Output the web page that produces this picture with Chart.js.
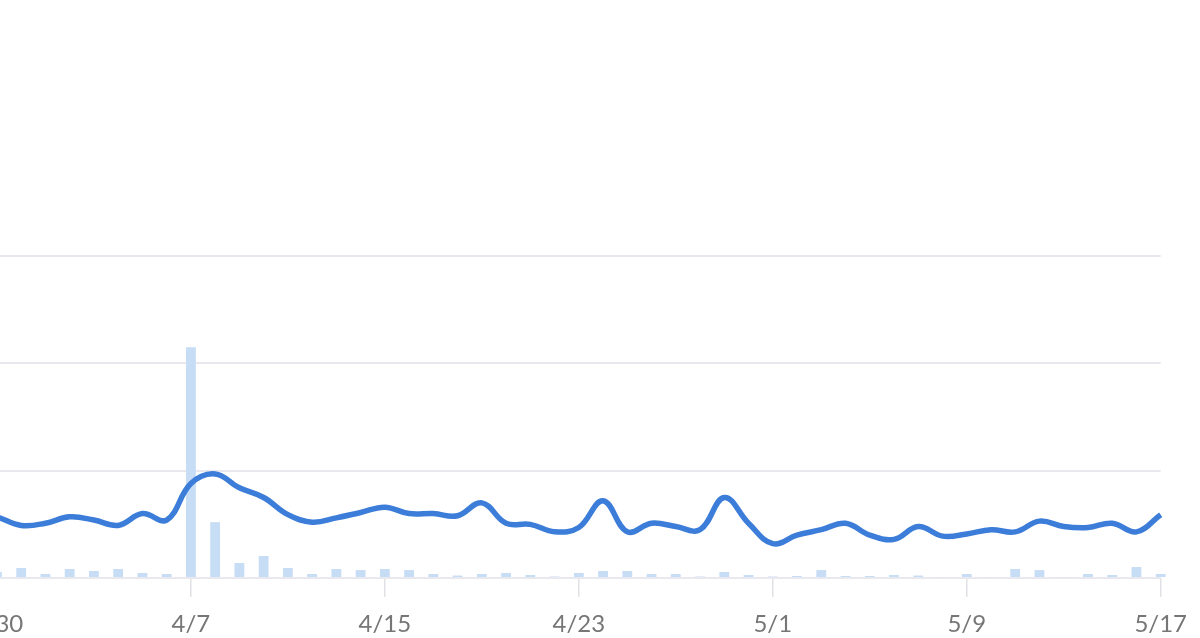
<!DOCTYPE html>
<html>
<head>
<meta charset="utf-8">
<script src="https://cdn.jsdelivr.net/npm/chart.js@4.4.1/dist/chart.umd.min.js"></script>
<style>
  html, body { margin: 0; padding: 0; background: #fff; overflow: hidden; }
  #wrap { position: absolute; left: -60px; top: 0; width: 1260px; height: 638px; }
</style>
</head>
<body>
<div id="wrap"><canvas id="trendChart"></canvas></div>
<script>
// days from 3/29 to 5/17
const days = [
  '3/29', '3/30', '3/31', '4/1', '4/2', '4/3', '4/4', '4/5', '4/6', '4/7',
  '4/8', '4/9', '4/10', '4/11', '4/12', '4/13', '4/14', '4/15', '4/16', '4/17',
  '4/18', '4/19', '4/20', '4/21', '4/22', '4/23', '4/24', '4/25', '4/26', '4/27',
  '4/28', '4/29', '4/30', '5/1', '5/2', '5/3', '5/4', '5/5', '5/6', '5/7',
  '5/8', '5/9', '5/10', '5/11', '5/12', '5/13', '5/14', '5/15', '5/16', '5/17'
];

// smoothed line
const trendValues = [
  63, 57, 49, 51, 57, 54, 49, 60, 54, 88,
  97, 84, 75, 59, 52, 56, 61, 66, 60, 60,
  58, 70, 51, 50, 43, 47, 72, 43, 51, 48,
  45, 75, 51, 32, 40, 45, 51, 40, 36, 48,
  39, 41, 45, 43, 53, 48, 47, 51, 43, 59
];

// daily bars
const dailyValues = [
  5, 5.6, 9.3, 3.7, 8.4, 6.5, 8.4, 4.7, 3.7, 215,
  52, 14, 20.5, 9.3, 3.7, 8.4, 7.4, 8.4, 7.4, 3.7,
  2.3, 3.7, 4.7, 2.8, 1.4, 4.7, 6.5, 6.5, 3.7, 3.7,
  1.4, 5.6, 2.8, 1.4, 1.9, 7.4, 1.9, 1.9, 2.8, 2.3,
  0.9, 3.7, 0.9, 8.4, 7.4, 0.9, 3.7, 2.8, 10.2, 3.7
];

const yTicks = [0, 100, 200, 300];

document.addEventListener("DOMContentLoaded", () => {
  const ctx = document.getElementById('trendChart').getContext('2d');
  new Chart(ctx, {
    data: {
      labels: days,
      datasets: [{
        type: 'line',
        data: trendValues,
        borderColor: '#3b7dd8',
        borderWidth: 5.5,
        pointRadius: 0,
        tension: 0.4,
        fill: false,
        order: 1,
      }, {
        type: 'bar',
        data: dailyValues,
        backgroundColor: '#c7dcf5',
        barPercentage: 0.45,
        categoryPercentage: 0.9,
        clip: false,
        order: 2,
      }]
    },
    options: {
      responsive: true,
      maintainAspectRatio: false,
      animation: false,
      layout: { padding: { left: 32.7, right: 37.8, top: 256, bottom: 0 } },
      plugins: {
        legend: { display: false },
        tooltip: { enabled: false }
      },
      scales: {
        x: {
          offset: false,
          border: { display: false },
          grid: {
            offset: false,
            drawOnChartArea: false,
            drawTicks: true,
            tickLength: 19,
            color: '#e2e2e6',
            lineWidth: 1.5,
          },
          ticks: {
            autoSkip: false,
            maxRotation: 0,
            padding: 13,
            color: '#767676',
            font: { family: 'Lato', size: 24 },
            callback: function (val, i) {
              return (i - 1) % 8 === 0 ? days[i] : null;
            }
          },
          afterFit: (axis) => { axis.height = 60; }
        },
        y: {
          min: yTicks[0],
          max: yTicks[yTicks.length - 1],
          border: { display: false },
          grid: { color: '#e8e8ee', lineWidth: 2, drawTicks: false },
          ticks: { display: false, stepSize: 100 },
          afterFit: (axis) => { axis.width = 0; }
        }
      }
    }
  });
});
</script>
</body>
</html>
